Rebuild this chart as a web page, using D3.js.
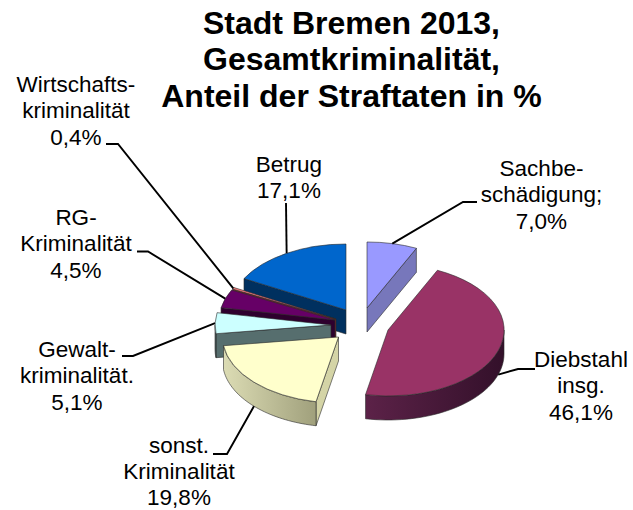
<!DOCTYPE html>
<html><head><meta charset="utf-8">
<script src="https://cdnjs.cloudflare.com/ajax/libs/d3/7.8.5/d3.min.js"></script>
<style>html,body{margin:0;padding:0;background:#fff}svg{display:block}text{font-family:"Liberation Sans",Arial,sans-serif;fill:#000}</style>
</head><body><svg id="c" width="633" height="510"></svg>
<script>
// Data (clockwise from 12 o'clock)
const categories = ["Sachbeschädigung","Diebstahl","sonst. Kriminalität","Gewaltkriminalität","RG-Kriminalität","Wirtschaftskriminalität","Betrug"];
const values = [7.0,46.1,19.8,5.1,4.5,0.4,17.1];
const labelLines = [["Sachbe-","schädigung;","7,0%"],["Diebstahl","insg.","46,1%"],["sonst.","Kriminalität","19,8%"],["Gewalt-","kriminalität.","5,1%"],["RG-","Kriminalität","4,5%"],["Wirtschafts-","kriminalität","0,4%"],["Betrug","17,1%"]];
const titleLines = ["Stadt Bremen 2013,","Gesamtkriminalität,","Anteil der Straftaten in %"];

// Layout and style, separate from the data
const RX=116, RY=66, DEPTH=24;
const apexes=[[367,308],[388,330],[338.5,337],[331,325],[335,320],[336,319],[346,310]];
const topColors=["#9999ff","#993366","#ffffcc","#ccffff","#660066","#ff8080","#0066cc"];
const cutColors=["#7777bb","#3a1230","#d4d4a6","#566e6e","#2e002e","#7a2a2a","#00305f"];
const wallStops=[["#7777bb","#7777bb"],["#5c2248","#33102a"],["#dcdcb4","#a0a07c"],["#566e6e","#4a6060"],["#3a003a","#2e002e"],["#a05050","#a05050"],["#00305f","#00305f"]];
// which straight cut faces are visible: 0 = start edge, 1 = end edge
const cutFace=[[1],[],[0],[0],[0],[0],[0]];
const labelX=[541.5,581,179,77,76,76,289];
const labelY=[176,367,452.5,357,225,92,172];
const lineH=26.3;
const elbows=[[[477,202],[463,202]],[[535,369],[518,369]],[[213,454],[227,454]],[[122,356],[133,356]],[[137,251.5],[148,251.5]],[[106,144],[118,144]],[[286,203]]];

const svg=d3.select("#c"), TAU=2*Math.PI;
const pie=d3.pie().sort(null).value(d=>d).startAngle(0).endAngle(TAU);
const arcs=pie(values);
const unitArc=d3.arc().innerRadius(0).outerRadius(1);
const defs=svg.append("defs");
const pt=(i,a,dz=0)=>[apexes[i][0]+RX*Math.sin(a), apexes[i][1]-RY*Math.cos(a)+dz];

wallStops.forEach((s,i)=>{
  const g=defs.append("linearGradient").attr("id","w"+i);
  g.append("stop").attr("offset","0").attr("stop-color",s[0]);
  g.append("stop").attr("offset","1").attr("stop-color",s[1]);
});

const line=d3.line();
const order=[6,5,4,3,2,0,1];
const stroke="#2a2a2a";
order.forEach(i=>{
  const d=arcs[i], ap=apexes[i], g=svg.append("g");
  cutFace[i].forEach(which=>{
    const a=which===0?d.startAngle:d.endAngle, e=pt(i,a), e2=pt(i,a,DEPTH);
    g.append("path").attr("d",line([ap,e,e2,[ap[0],ap[1]+DEPTH]])+"Z")
      .attr("fill",cutColors[i]).attr("stroke",stroke).attr("stroke-width",0.6);
  });
  const a0=Math.max(d.startAngle,Math.PI/2), a1=Math.min(d.endAngle,3*Math.PI/2);
  if(a1>a0){
    const as=d3.range(0,41).map(k=>a0+(a1-a0)*k/40);
    const pts=as.map(a=>pt(i,a)).concat(as.slice().reverse().map(a=>pt(i,a,DEPTH)));
    g.append("path").attr("d",line(pts)+"Z").attr("fill",`url(#w${i})`)
      .attr("stroke",stroke).attr("stroke-width",0.6);
  }
  g.append("path").attr("d",unitArc(d))
    .attr("transform",`translate(${ap[0]},${ap[1]}) scale(${RX},${RY})`)
    .attr("fill",topColors[i]).attr("stroke",stroke).attr("stroke-width",0.6)
    .attr("vector-effect","non-scaling-stroke");
});

arcs.forEach((d,i)=>{
  const m=(d.startAngle+d.endAngle)/2;
  const front=Math.cos(m)<-0.25;
  const end=pt(i,m,front?DEPTH:0);
  svg.append("path").attr("d",line(elbows[i].concat([end])))
    .attr("fill","none").attr("stroke","#000").attr("stroke-width",1.9);
});

labelLines.forEach((ls,i)=>{
  const t=svg.append("text").attr("text-anchor","middle").attr("font-size",22.5);
  ls.forEach((s,k)=>t.append("tspan").attr("x",labelX[i]).attr("y",labelY[i]+k*lineH).text(s));
});
const tt=svg.append("text").attr("text-anchor","middle").attr("font-size",32).attr("font-weight","bold");
titleLines.forEach((s,k)=>tt.append("tspan").attr("x",351.5).attr("y",[33.5,70,107][k]).text(s));
</script></body></html>
